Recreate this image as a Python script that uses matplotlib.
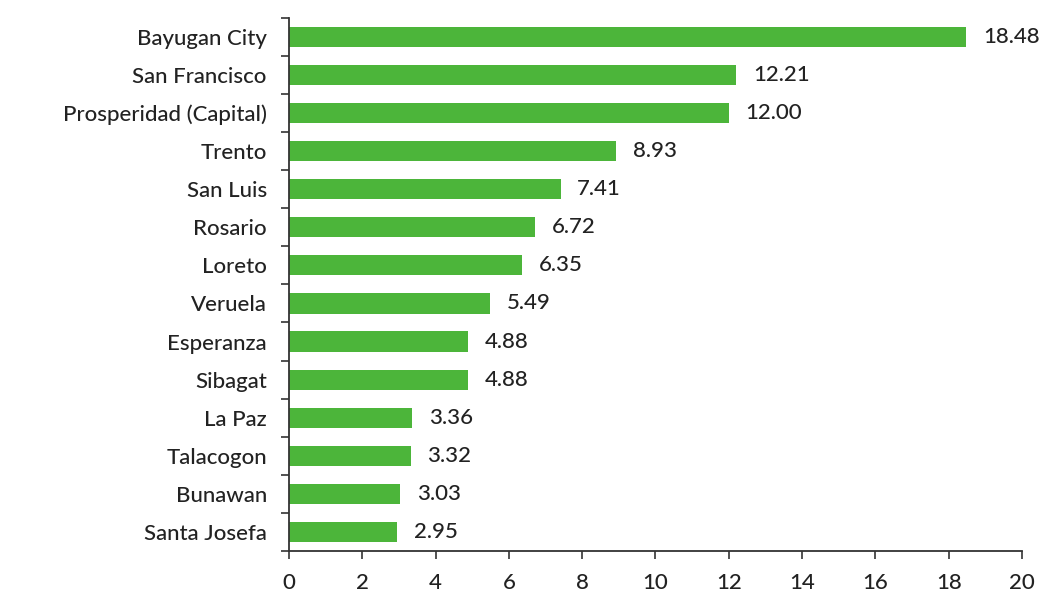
import matplotlib
matplotlib.use("Agg")
import matplotlib.pyplot as plt
import numpy as np

categories = ["Bayugan City", "San Francisco", "Prosperidad (Capital)", "Trento", "San Luis",
              "Rosario", "Loreto", "Veruela", "Esperanza", "Sibagat", "La Paz", "Talacogon",
              "Bunawan", "Santa Josefa"]
values = [18.48, 12.21, 12.00, 8.93, 7.41, 6.72, 6.35, 5.49, 4.88, 4.88, 3.36, 3.32, 3.03, 2.95]
value_labels = ["18.48", "12.21", "12.00", "8.93", "7.41", "6.72", "6.35", "5.49", "4.88",
                "4.88", "3.36", "3.32", "3.03", "2.95"]
xticks = [0, 2, 4, 6, 8, 10, 12, 14, 16, 18, 20]

plt.rcParams['font.family'] = ['Lato', 'DejaVu Sans']
FS = 16
FW = "medium"
TXT = "#222222"
fig = plt.figure(figsize=(10.57, 5.95), dpi=100)
ax = fig.add_axes([0.2734, 0.074, 0.6935, 0.896])

y = np.arange(len(categories))
ax.barh(y, values, height=0.53, color="#4cb53a", edgecolor="none")
for yi, v, lab in zip(y, values, value_labels):
    ax.annotate(lab, (v, yi), xytext=(12, 0), textcoords="offset points",
                va="center", ha="left", fontsize=FS, fontweight=FW, color=TXT)

ax.set_ylim(len(categories) - 0.5, -0.5)
ax.set_xlim(0, 20)
ax.set_yticks(y)
ax.set_yticklabels(categories, fontsize=FS, fontweight=FW, color=TXT)
ax.set_yticks(np.arange(len(categories) + 1) - 0.5, minor=True)
ax.tick_params(axis="y", which="major", length=0, pad=16)
ax.tick_params(axis="y", which="minor", length=6, width=1.2, color="#333333")
ax.set_xticks(xticks)
ax.set_xticklabels([str(t) for t in xticks], fontsize=FS, fontweight=FW, color=TXT)
ax.tick_params(axis="x", length=6, width=1.2, color="#333333", pad=10)
for s in ["top", "right"]:
    ax.spines[s].set_visible(False)
for s in ["left", "bottom"]:
    ax.spines[s].set_linewidth(1.3)
    ax.spines[s].set_color("#333333")

fig.savefig("out.png", dpi=100)
